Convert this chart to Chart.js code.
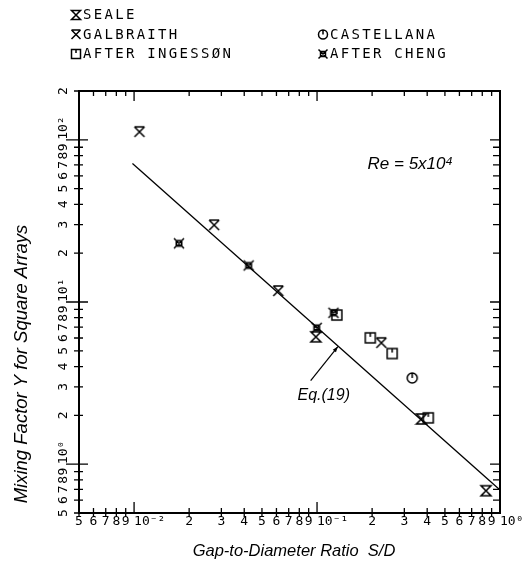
<!DOCTYPE html>
<html><head><meta charset="utf-8">
<script src="https://cdn.jsdelivr.net/npm/chart.js@4/dist/chart.umd.min.js"></script>
<style>html,body{margin:0;padding:0;background:#fff}canvas{display:block}</style>
</head><body>
<canvas id="c" width="526" height="565"></canvas>
<script>
// ---- data (S/D, Y) ----
const sealeX = [0.0985, 0.372, 0.838];
const sealeY = [6.10, 1.90, 0.686];
const galbraithX = [0.0107, 0.0274, 0.0614, 0.2246];
const galbraithY = [112, 29.8, 11.7, 5.6];
const ingessonX = [0.1283, 0.1955, 0.2573, 0.4055];
const ingessonY = [8.31, 6.01, 4.81, 1.93];
const castellanaX = [0.3314];
const castellanaY = [3.40];
const chengX = [0.0176, 0.0423, 0.0996, 0.123];
const chengY = [23.0, 16.8, 6.93, 8.58];
const eqX = [0.0098, 0.99];
const eqY = [71.5, 0.70];

const xTickValues = [0.005,0.006,0.007,0.008,0.009,0.01,0.02,0.03,0.04,0.05,0.06,0.07,0.08,0.09,0.1,0.2,0.3,0.4,0.5,0.6,0.7,0.8,0.9,1];
const xTickLabels = ['5','6','7','8','9','    10⁻²','2','3','4','5','6','7','8','9','    10⁻¹','2','3','4','5','6','7','8','9','   10⁰'];
const yTickValues = [0.5,0.6,0.7,0.8,0.9,1,2,3,4,5,6,7,8,9,10,20,30,40,50,60,70,80,90,100,200];
const yTickLabels = ['5','6','7','8','9','   10⁰','2','3','4','5','6','7','8','9','   10¹','2','3','4','5','6','7','8','9','   10²','2'];
const xMajor = [0.01, 0.1, 1];
const yMajor = [1, 10, 100];

const legendNames = ['SEALE','GALBRAITH','AFTER INGESSØN','CASTELLANA','AFTER CHENG'];
const xTitle = 'Gap-to-Diameter Ratio  S/D';
const yTitle = 'Mixing Factor Y for Square Arrays';
const reText = 'Re = 5x10⁴';
const eqText = 'Eq.(19)';

// ---- marker glyphs ----
function drawMarker(ctx, type, cx, cy, r) {
  ctx.save();
  ctx.strokeStyle = '#000';
  ctx.lineWidth = 1.5;
  ctx.beginPath();
  if (type === 'seale') {
    ctx.moveTo(cx - r, cy - r); ctx.lineTo(cx + r, cy - r);
    ctx.lineTo(cx - r, cy + r); ctx.lineTo(cx + r, cy + r);
    ctx.closePath();
  } else if (type === 'galbraith') {
    ctx.moveTo(cx - r, cy - r); ctx.lineTo(cx + r, cy - r);
    ctx.moveTo(cx - r, cy - r); ctx.lineTo(cx + r, cy + r);
    ctx.moveTo(cx + r, cy - r); ctx.lineTo(cx - r, cy + r);
  } else if (type === 'ingesson') {
    ctx.rect(cx - r, cy - r, 2 * r, 2 * r);
    ctx.moveTo(cx, cy - r); ctx.lineTo(cx, cy - r * 0.2);
  } else if (type === 'castellana') {
    ctx.arc(cx, cy, r, 0, Math.PI * 2);
    ctx.moveTo(cx, cy - r); ctx.lineTo(cx, cy);
  } else if (type === 'cheng') {
    const q = r * 0.55;
    ctx.rect(cx - q, cy - q, 2 * q, 2 * q);
    ctx.moveTo(cx - r, cy - r); ctx.lineTo(cx + r, cy + r);
    ctx.moveTo(cx + r, cy - r); ctx.lineTo(cx - r, cy + r);
  }
  ctx.stroke();
  ctx.restore();
}
function markerCanvas(type) {
  const s = 14;
  const c = document.createElement('canvas');
  c.width = s; c.height = s;
  drawMarker(c.getContext('2d'), type, s / 2, s / 2, 5);
  return c;
}
function pts(xs, ys) { return xs.map((x, i) => ({ x: x, y: ys[i] })); }

const markerTypes = ['seale','galbraith','ingesson','castellana','cheng'];

const overlay = {
  id: 'overlay',
  afterDraw(chart) {
    const ctx = chart.ctx;
    const a = chart.chartArea;
    const xs = chart.scales.x, ys = chart.scales.y;
    ctx.save();
    ctx.strokeStyle = '#000';
    ctx.fillStyle = '#000';
    // frame
    ctx.lineWidth = 2;
    ctx.strokeRect(a.left, a.top, a.right - a.left, a.bottom - a.top);
    // tick marks
    ctx.lineWidth = 1.3;
    ctx.beginPath();
    xTickValues.forEach(v => {
      const p = xs.getPixelForValue(v);
      const maj = xMajor.includes(v);
      if (maj) { ctx.moveTo(p, a.bottom - 11); ctx.lineTo(p, a.bottom); ctx.moveTo(p, a.top); ctx.lineTo(p, a.top + 10); }
      else { ctx.moveTo(p, a.bottom - 5); ctx.lineTo(p, a.bottom + 4); ctx.moveTo(p, a.top); ctx.lineTo(p, a.top + 5); }
    });
    yTickValues.forEach(v => {
      const p = ys.getPixelForValue(v);
      const maj = yMajor.includes(v);
      if (maj) { ctx.moveTo(a.left - 13, p); ctx.lineTo(a.left + 9, p); ctx.moveTo(a.right - 10, p); ctx.lineTo(a.right, p); }
      else { ctx.moveTo(a.left - 5, p); ctx.lineTo(a.left + 4, p); ctx.moveTo(a.right - 7, p); ctx.lineTo(a.right, p); }
    });
    ctx.stroke();

    // annotations
    ctx.textAlign = 'center';
    ctx.textBaseline = 'middle';
    ctx.font = 'italic 17px "Liberation Sans", Arial, sans-serif';
    ctx.fillText(reText, xs.getPixelForValue(0.323), ys.getPixelForValue(70.6));
    ctx.font = 'italic 16px "Liberation Sans", Arial, sans-serif';
    ctx.fillText(eqText, xs.getPixelForValue(0.1088), ys.getPixelForValue(2.65));
    const x0 = xs.getPixelForValue(0.0923), y0 = ys.getPixelForValue(3.28);
    const x1 = xs.getPixelForValue(0.13), y1 = ys.getPixelForValue(5.31);
    ctx.lineWidth = 1.2;
    ctx.beginPath(); ctx.moveTo(x0, y0); ctx.lineTo(x1, y1); ctx.stroke();
    const ang = Math.atan2(y1 - y0, x1 - x0);
    ctx.beginPath();
    ctx.moveTo(x1, y1);
    ctx.lineTo(x1 - 6 * Math.cos(ang - 0.35), y1 - 6 * Math.sin(ang - 0.35));
    ctx.lineTo(x1 - 6 * Math.cos(ang + 0.35), y1 - 6 * Math.sin(ang + 0.35));
    ctx.closePath(); ctx.fill();

    // axis titles
    ctx.font = 'italic 16.5px "Liberation Sans", Arial, sans-serif';
    ctx.fillText(xTitle, 294, 551);
    ctx.save();
    ctx.translate(22, 364);
    ctx.rotate(-Math.PI / 2);
    ctx.font = 'italic 18.5px "Liberation Sans", Arial, sans-serif';
    ctx.fillText(yTitle, 0, 0);
    ctx.restore();

    // legend
    const slots = [[76, 15], [76, 34.5], [76, 54], [323, 34.5], [323, 54]];
    ctx.font = '14px "DejaVu Sans Mono", monospace';
    ctx.letterSpacing = '2.3px';
    ctx.textAlign = 'left';
    legendNames.forEach((n, i) => {
      const [sx, sy] = slots[i];
      drawMarker(ctx, markerTypes[i], sx, sy, 4.5);
      ctx.fillText(n, sx + 7, sy + 0.5);
    });
    ctx.restore();
  }
};

const scatterDs = (label, xs, ys, type) => ({
  label: label, data: pts(xs, ys), pointStyle: markerCanvas(type),
  pointRadius: 5, showLine: false, borderColor: '#000', backgroundColor: '#000'
});

new Chart(document.getElementById('c'), {
  type: 'scatter',
  data: {
    datasets: [
      { label: 'Eq.(19)', data: pts(eqX, eqY), showLine: true, pointRadius: 0,
        borderColor: '#000', borderWidth: 1.3, fill: false },
      scatterDs('SEALE', sealeX, sealeY, 'seale'),
      scatterDs('GALBRAITH', galbraithX, galbraithY, 'galbraith'),
      scatterDs('AFTER INGESSON', ingessonX, ingessonY, 'ingesson'),
      scatterDs('CASTELLANA', castellanaX, castellanaY, 'castellana'),
      scatterDs('AFTER CHENG', chengX, chengY, 'cheng')
    ]
  },
  options: {
    responsive: false,
    animation: false,
    events: [],
    layout: { padding: { top: 91, right: 26, left: 0, bottom: 0 } },
    plugins: { legend: { display: false }, tooltip: { enabled: false } },
    scales: {
      x: {
        type: 'logarithmic', min: 0.005, max: 1,
        grid: { display: false, drawTicks: false }, border: { display: false },
        afterBuildTicks: s => { s.ticks = xTickValues.map(v => ({ value: v })); },
        afterFit: s => { s.height = 52; },
        ticks: {
          autoSkip: false, maxRotation: 0, minRotation: 0, padding: 1, color: '#000',
          font: { family: '"DejaVu Sans Mono", monospace', size: 13 },
          callback: (v) => { const i = xTickValues.indexOf(v); return i >= 0 ? xTickLabels[i] : ''; }
        }
      },
      y: {
        type: 'logarithmic', min: 0.5, max: 200,
        grid: { display: false, drawTicks: false }, border: { display: false },
        afterBuildTicks: s => { s.ticks = yTickValues.map(v => ({ value: v })); },
        afterFit: s => { s.width = 79; },
        ticks: {
          autoSkip: false, minRotation: 90, maxRotation: 90, crossAlign: 'center', padding: -8, color: '#000',
          font: { family: '"DejaVu Sans Mono", monospace', size: 13 },
          callback: (v) => { const i = yTickValues.indexOf(v); return i >= 0 ? yTickLabels[i] : ''; }
        }
      }
    }
  },
  plugins: [overlay]
});
</script>
</body></html>
